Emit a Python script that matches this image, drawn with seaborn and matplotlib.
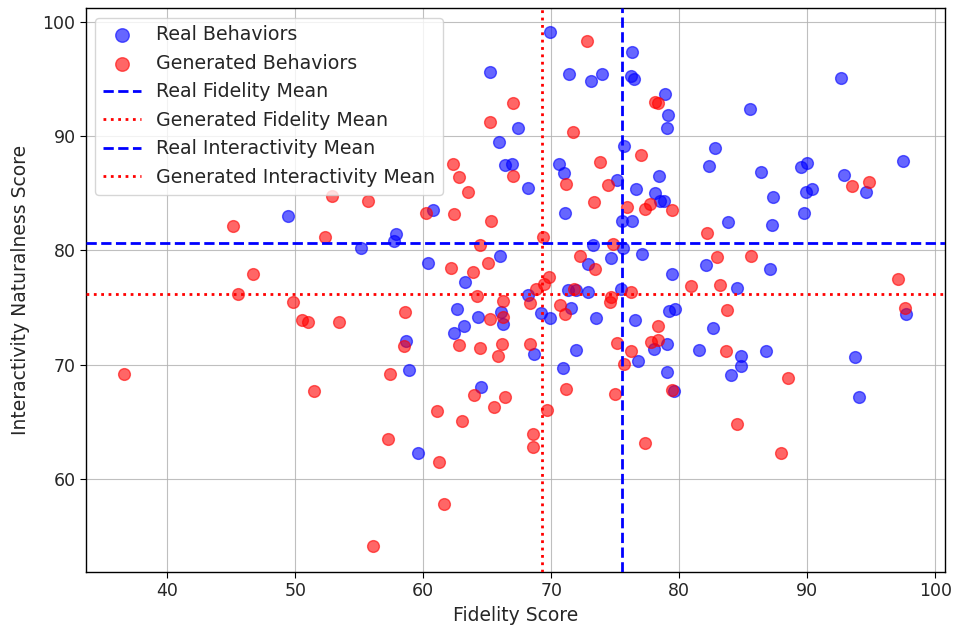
import numpy as np
import pandas as pd
import matplotlib
matplotlib.use("Agg")
import matplotlib.pyplot as plt
import seaborn as sns

# Real behaviors (fidelity, interactivity)
real_fidelity = [65.2, 67.4, 65.9, 66.4, 66.9, 69.9, 76.3, 71.4, 73.1, 73.95,
                 76.2, 76.45, 78.9, 79.1, 79.05, 75.65, 82.8, 82.3, 70.6, 71.0,
                 75.1, 78.4, 76.6, 68.15, 78.1, 78.5, 78.8, 92.65, 85.55, 86.4,
                 89.5, 90.0, 97.45, 92.9, 94.55, 90.4, 89.9, 87.3, 89.7, 87.25,
                 83.8, 87.05, 84.5, 97.7, 86.8, 84.8, 84.8, 84.0, 93.7, 94.0,
                 71.1, 75.5, 76.3, 73.25, 75.6, 74.7, 77.1, 72.9, 82.1, 79.4,
                 68.2, 71.3, 71.9, 72.85, 75.45, 71.5, 69.2, 69.9, 73.5, 79.2,
                 79.65, 76.5, 82.6, 79.05, 78.0, 71.9, 81.5, 68.65, 76.8, 70.95,
                 79.0, 79.6, 64.5, 59.6, 60.75, 57.9, 57.7, 55.15, 60.4, 66.0,
                 63.25, 58.65, 62.6, 64.25, 66.1, 66.25, 63.15, 62.4, 58.85, 49.4]
real_interactivity = [95.6, 90.7, 89.5, 87.5, 87.6, 99.1, 97.35, 95.45, 94.8, 95.4,
                      95.3, 95.0, 93.7, 91.85, 90.75, 89.1, 89.0, 87.4, 87.6, 86.8,
                      86.2, 86.5, 85.4, 85.5, 85.0, 84.3, 84.3, 95.1, 92.35, 86.9,
                      87.3, 87.65, 87.8, 86.6, 85.15, 85.4, 85.1, 84.65, 83.3, 82.2,
                      82.45, 78.4, 76.75, 74.45, 71.2, 70.75, 69.9, 69.05, 70.65, 67.2,
                      83.25, 82.6, 82.6, 80.5, 80.2, 79.3, 79.7, 78.85, 78.7, 77.9,
                      76.1, 76.55, 76.55, 76.35, 76.65, 74.95, 74.5, 74.1, 74.1, 74.7,
                      74.9, 73.9, 73.2, 71.8, 71.4, 71.25, 71.25, 70.9, 70.3, 69.7,
                      69.35, 67.65, 68.05, 62.25, 83.55, 81.4, 80.8, 80.25, 78.9, 79.5,
                      77.2, 72.05, 74.85, 74.15, 74.6, 73.55, 73.4, 72.8, 69.5, 83.05]

# Generated behaviors (fidelity, interactivity)
gen_fidelity = [67.0, 65.2, 62.3, 62.8, 67.0, 63.5, 52.85, 55.7, 72.75, 78.1,
                78.3, 71.7, 77.0, 73.8, 71.15, 74.4, 73.35, 93.5, 94.8, 85.6,
                97.1, 97.6, 83.7, 88.5, 84.5, 87.95, 75.9, 77.3, 77.7, 79.4,
                69.35, 82.2, 74.8, 72.25, 82.95, 73.45, 69.8, 69.45, 68.8, 80.9,
                83.15, 71.8, 76.25, 68.35, 74.7, 74.55, 70.7, 71.05, 78.35, 68.35,
                75.1, 77.8, 78.3, 76.2, 83.65, 75.7, 71.15, 79.4, 74.95, 69.65,
                68.55, 68.6, 77.3, 51.5, 64.0, 66.4, 65.55, 61.05, 63.05, 57.25,
                61.25, 61.65, 56.05, 60.2, 62.4, 65.3, 52.35, 64.4, 62.15, 63.85,
                65.05, 64.2, 66.25, 50.5, 51.0, 53.4, 58.6, 58.5, 65.2, 66.25,
                62.8, 64.4, 66.15, 65.85, 57.4, 45.1, 46.7, 45.55, 49.85, 36.65]
gen_interactivity = [92.9, 91.2, 87.6, 86.4, 86.5, 85.1, 84.8, 84.3, 98.3, 92.95,
                     92.9, 90.35, 88.35, 87.7, 85.8, 85.7, 84.2, 85.6, 85.95, 79.5,
                     77.5, 74.95, 74.8, 68.85, 64.8, 62.25, 83.8, 83.6, 84.05, 83.5,
                     81.15, 81.55, 80.6, 79.5, 79.4, 78.4, 77.65, 77.05, 76.65, 76.85,
                     77.0, 76.65, 76.35, 75.4, 75.9, 75.5, 75.25, 74.45, 73.4, 71.85,
                     71.9, 72.0, 72.2, 71.2, 71.2, 70.05, 67.9, 67.8, 67.45, 66.05,
                     63.9, 62.75, 63.15, 67.7, 67.35, 67.15, 66.3, 65.95, 65.1, 63.5,
                     61.5, 57.8, 54.15, 83.25, 83.15, 82.55, 81.2, 80.5, 78.45, 78.1,
                     78.9, 76.05, 75.6, 73.9, 73.75, 73.75, 74.6, 71.6, 74.0, 74.15,
                     71.7, 71.45, 71.85, 70.75, 69.2, 82.1, 77.9, 76.2, 75.5, 69.15]

# Means
real_fidelity_mean = 75.55
gen_fidelity_mean = 69.25
real_interactivity_mean = 80.65
gen_interactivity_mean = 76.2

real_df = pd.DataFrame({"fidelity": real_fidelity, "interactivity": real_interactivity})
gen_df = pd.DataFrame({"fidelity": gen_fidelity, "interactivity": gen_interactivity})

sns.set_style("white")
plt.rcParams["font.family"] = ["DejaVu Sans"]

fig = plt.figure(figsize=(9.55, 6.33), dpi=100)
ax = fig.add_axes([0.090, 0.0964, 0.8995, 0.8906])

sns.scatterplot(data=real_df, x="fidelity", y="interactivity", ax=ax,
                color="blue", alpha=0.6, s=72, edgecolor="blue", linewidth=1,
                label="Real Behaviors", zorder=3)
sns.scatterplot(data=gen_df, x="fidelity", y="interactivity", ax=ax,
                color="red", alpha=0.6, s=72, edgecolor="red", linewidth=1,
                label="Generated Behaviors", zorder=3)

ax.axvline(real_fidelity_mean, color="blue", linestyle="--", linewidth=2,
           label="Real Fidelity Mean", zorder=4)
ax.axvline(gen_fidelity_mean, color="red", linestyle=":", linewidth=2,
           label="Generated Fidelity Mean", zorder=4)
ax.axhline(real_interactivity_mean, color="blue", linestyle="--", linewidth=2,
           label="Real Interactivity Mean", zorder=4)
ax.axhline(gen_interactivity_mean, color="red", linestyle=":", linewidth=2,
           label="Generated Interactivity Mean", zorder=4)

ax.set_xlim(33.65, 100.75)
ax.set_ylim(51.85, 101.2)
ax.set_xticks([40, 50, 60, 70, 80, 90, 100])
ax.set_yticks([60, 70, 80, 90, 100])
ax.grid(True, color="#b0b0b0", linewidth=0.8, alpha=0.8)
ax.set_axisbelow(True)
for sp in ax.spines.values():
    sp.set_color("black")
    sp.set_linewidth(1)
ax.tick_params(axis="both", labelsize=12.5, direction="out", length=4, color="black",
               bottom=True, left=True)
ax.set_xlabel("Fidelity Score", fontsize=13.5)
ax.set_ylabel("Interactivity Naturalness Score", fontsize=13.5, labelpad=9)
ax.legend(loc="upper left", fontsize=13.7, frameon=True, markerscale=1.15)

fig.savefig("out.png", dpi=100)
